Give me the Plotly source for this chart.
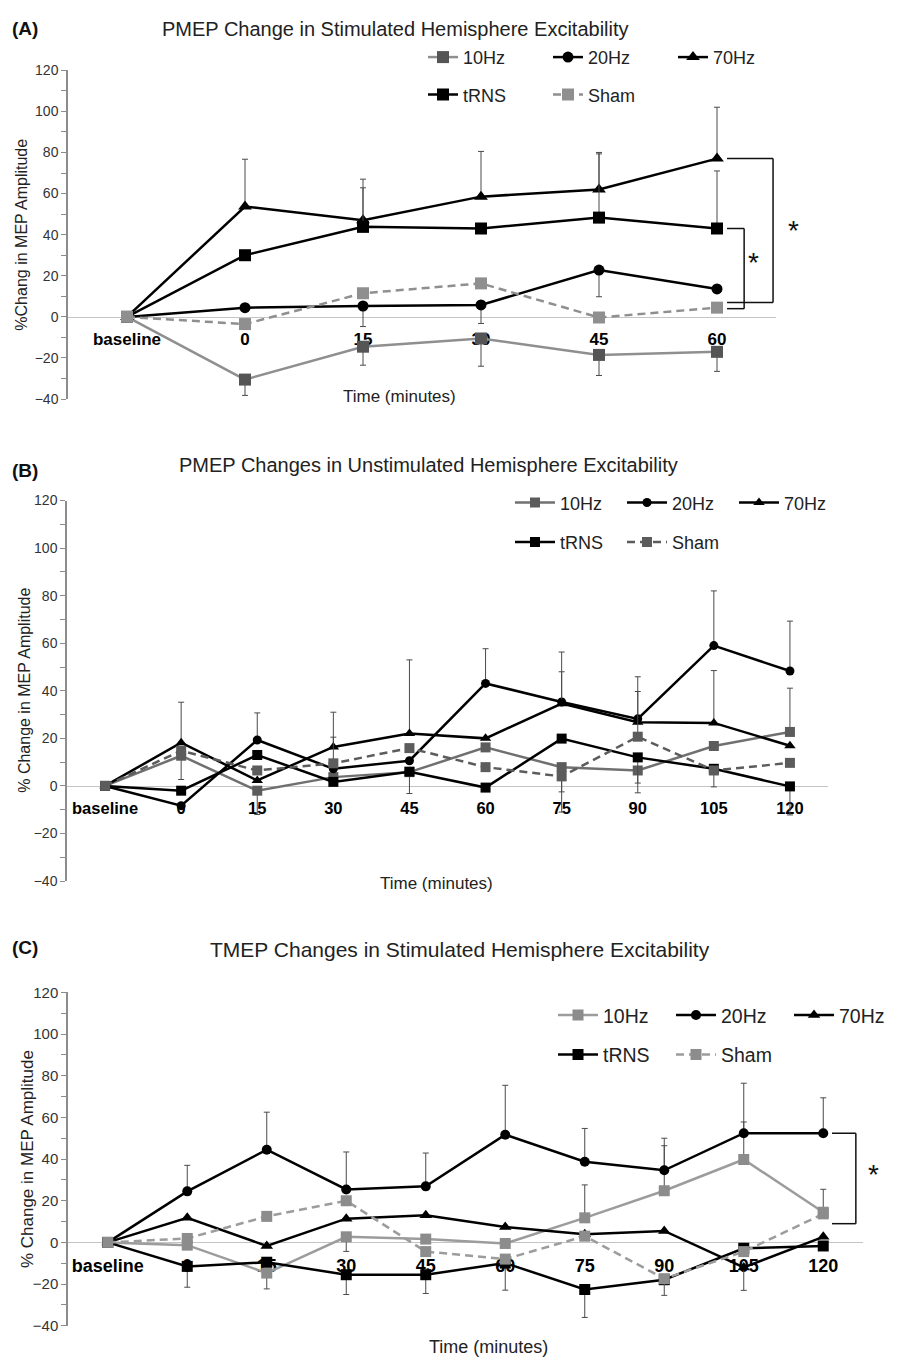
import plotly.graph_objects as go

W, H = 909, 1372
FONT = "Arial, 'Liberation Sans', sans-serif"

# ---------------- data ----------------
SERIES = ["10Hz", "20Hz", "70Hz", "tRNS", "Sham"]

A_CATS = ["baseline", "0", "15", "30", "45", "60"]
A_10HZ = [0, -30.5, -14.5, -10.5, -18.5, -17]
A_20HZ = [0, 4.5, 5.3, 5.8, 22.8, 13.6]
A_70HZ = [0, 53.7, 47, 58.5, 62, 77]
A_TRNS = [0, 30, 43.8, 43, 48.3, 43]
A_SHAM = [0, -3.5, 11.5, 16.3, -0.3, 4.5]
A_10HZ_ERR_MINUS = [0, 7.7, 9, 13.5, 10, 9.5]
A_20HZ_ERR_MINUS = [0, 0, 10, 9, 13, 0]
A_70HZ_ERR_PLUS = [0, 23, 20, 22, 18, 25]
A_TRNS_ERR_PLUS = [0, 0, 19, 0, 31, 28]

B_CATS = ["baseline", "0", "15", "30", "45", "60", "75", "90", "105", "120"]
B_10HZ = [0, 12.7, -2, 3.7, 5.8, 16.2, 7.9, 6.5, 16.8, 22.7]
B_20HZ = [0, -8.3, 19.3, 7.2, 10.6, 43.1, 35.3, 28.2, 59, 48.3]
B_70HZ = [0, 18.2, 2.3, 16.4, 22, 20, 34.6, 26.8, 26.5, 16.9]
B_TRNS = [0, -2, 13, 1.7, 6, -0.7, 19.9, 12, 7.2, -0.2]
B_SHAM = [0, 14.8, 6.5, 9.5, 15.9, 7.9, 4, 20.7, 6.5, 9.7]
B_10HZ_ERR_PLUS = [0, 0, 0, 0, 0, 0, 0, 0, 0, 18.4]
B_10HZ_ERR_MINUS = [0, 10, 10, 0, 9, 0, 10.4, 9.4, 0, 0]
B_20HZ_ERR_PLUS = [0, 0, 11.4, 0, 0, 14.6, 21, 17.7, 23, 21]
B_70HZ_ERR_PLUS = [0, 17, 0, 14.6, 31, 0, 13.4, 0, 22, 0]
B_TRNS_ERR_MINUS = [0, 0, 0, 0, 0, 0, 0, 10.8, 7.6, 12]
B_SHAM_ERR_PLUS = [0, 0, 0, 11, 0, 0, 0, 19, 0, 0]
B_SHAM_ERR_MINUS = [0, 0, 0, 0, 0, 0, 15, 0, 0, 0]

C_CATS = ["baseline", "0", "15", "30", "45", "60", "75", "90", "105", "120"]
C_10HZ = [0, -1.3, -14.7, 2.7, 1.6, -0.5, 11.8, 24.8, 39.8, 14.5]
C_20HZ = [0, 24.5, 44.5, 25.4, 26.9, 51.7, 38.7, 34.6, 52.4, 52.4]
C_70HZ = [0, 11.8, -1.7, 11.4, 13, 7.4, 3.9, 5.5, -12, 2.7]
C_TRNS = [0, -11.5, -9.5, -15.5, -15.5, -9.9, -22.6, -17.9, -2.8, -1.7]
C_SHAM = [0, 1.9, 12.5, 20, -4.4, -8, 3, -17.4, -4.4, 13.7]
C_10HZ_ERR_PLUS = [0, 0, 0, 0, 0, 0, 15.8, 21.6, 18, 11]
C_10HZ_ERR_MINUS = [0, 0, 7.6, 7, 0, 0, 0, 0, 0, 0]
C_20HZ_ERR_PLUS = [0, 12.5, 18, 18, 16, 23.7, 16, 15.4, 24, 17]
C_70HZ_ERR_MINUS = [0, 0, 0, 0, 0, 0, 0, 0, 11, 0]
C_TRNS_ERR_MINUS = [0, 10, 0, 9.5, 9, 13, 13.4, 0, 0, 0]
C_SHAM_ERR_MINUS = [0, 0, 0, 0, 0, 0, 0, 8, 0, 0]

Y_TICKS = [-40, -20, 0, 20, 40, 60, 80, 100, 120]

TITLES = ["PMEP Change in Stimulated Hemisphere Excitability",
          "PMEP Changes in Unstimulated Hemisphere Excitability",
          "TMEP Changes in Stimulated Hemisphere Excitability"]
LETTERS = ["(A)", "(B)", "(C)"]
Y_TITLES = ["%Chang in MEP Amplitude", "% Change in MEP Amplitude", "% Change in MEP Amplitude"]
X_TITLE = "Time (minutes)"
SIG = "*"


def zeros(n):
    return [0] * n


panels = [
    dict(cats=A_CATS,
         vals=[A_10HZ, A_20HZ, A_70HZ, A_TRNS, A_SHAM],
         plus=[None, None, A_70HZ_ERR_PLUS, A_TRNS_ERR_PLUS, None],
         minus=[A_10HZ_ERR_MINUS, A_20HZ_ERR_MINUS, None, None, None],
         xdom=(68, 776), ydom=(62, 395),
         c10=("#8f8f8f", "#555555"), csham=("#8f8f8f", "#8f8f8f"),
         msize=12, tickfs=17, ytickfs=14, ytitlefs=16, legfs=18,
         leg_rows=(49, 87), leg_x=423, entry=125, itemw=30,
         title_xy=(395, 20), title_fs=20, letter_y=20,
         ytitle_x=22, xtitle_xy=(399, 392), xtitle_fs=17),
    dict(cats=B_CATS,
         vals=[B_10HZ, B_20HZ, B_70HZ, B_TRNS, B_SHAM],
         plus=[B_10HZ_ERR_PLUS, B_20HZ_ERR_PLUS, B_70HZ_ERR_PLUS, None, B_SHAM_ERR_PLUS],
         minus=[B_10HZ_ERR_MINUS, None, None, B_TRNS_ERR_MINUS, B_SHAM_ERR_MINUS],
         xdom=(67, 828), ydom=(497.7, 883),
         c10=("#707070", "#5c5c5c"), csham=("#5c5c5c", "#5c5c5c"),
         msize=10, tickfs=16.5, ytickfs=14, ytitlefs=16, legfs=18,
         leg_rows=(500, 540), leg_x=510, entry=112, itemw=40,
         title_xy=(428, 462), title_fs=20, letter_y=467,
         ytitle_x=25, xtitle_xy=(436, 885), xtitle_fs=17),
    dict(cats=C_CATS,
         vals=[C_10HZ, C_20HZ, C_70HZ, C_TRNS, C_SHAM],
         plus=[C_10HZ_ERR_PLUS, C_20HZ_ERR_PLUS, None, None, None],
         minus=[C_10HZ_ERR_MINUS, None, C_70HZ_ERR_MINUS, C_TRNS_ERR_MINUS, C_SHAM_ERR_MINUS],
         xdom=(68, 863), ydom=(995.7, 1333.3),
         c10=("#9c9c9c", "#8c8c8c"), csham=("#9c9c9c", "#8c8c8c"),
         msize=11, tickfs=18, ytickfs=15, ytitlefs=17, legfs=19.5,
         leg_rows=(1019, 1059), leg_x=553, entry=118, itemw=40,
         title_xy=(460, 952), title_fs=21, letter_y=950,
         ytitle_x=27, xtitle_xy=(488, 1355), xtitle_fs=18),
]

fig = go.Figure()
layout = dict(width=W, height=H, margin=dict(l=0, r=0, t=0, b=0),
              paper_bgcolor="white", plot_bgcolor="white",
              font=dict(family=FONT, color="#222222"), showlegend=True)
annotations = []
shapes = []


def fx(p):
    return p / W


def fy(p):
    return 1 - p / H


for i, p in enumerate(panels):
    sfx = "" if i == 0 else str(i + 1)
    xa, ya = "x" + sfx, "y" + sfx
    leg1 = "legend" if i == 0 else "legend%d" % (2 * i + 1)
    leg2 = "legend%d" % (2 * i + 2)
    n = len(p["cats"])
    styles = [
        dict(lc=p["c10"][0], mc=p["c10"][1], sym="square", dash="solid", lw=2.5, ms=p["msize"]),
        dict(lc="#000000", mc="#000000", sym="circle", dash="solid", lw=2.5, ms=p["msize"] - 1),
        dict(lc="#000000", mc="#000000", sym="triangle-up", dash="solid", lw=2.5, ms=p["msize"]),
        dict(lc="#000000", mc="#000000", sym="square", dash="solid", lw=2.5, ms=p["msize"]),
        dict(lc=p["csham"][0], mc=p["csham"][1], sym="square", dash="8px,5px", lw=2.5, ms=p["msize"]),
    ]
    for k, name in enumerate(SERIES):
        st = styles[k]
        plus = p["plus"][k] if p["plus"][k] is not None else zeros(n)
        minus = p["minus"][k] if p["minus"][k] is not None else zeros(n)
        has_err = p["plus"][k] is not None or p["minus"][k] is not None
        fig.add_trace(go.Scatter(
            x=p["cats"], y=p["vals"][k], name=name, mode="lines+markers",
            xaxis=xa, yaxis=ya, legend=leg1 if k < 3 else leg2,
            line=dict(color=st["lc"], width=st["lw"], dash=st["dash"]),
            marker=dict(symbol=st["sym"], size=st["ms"], color=st["mc"], line=dict(width=0)),
            error_y=dict(type="data", symmetric=False, array=plus, arrayminus=minus,
                         color="#4a4a4a", thickness=1, width=3, visible=has_err),
            cliponaxis=False, hoverinfo="skip"))

    d0, d1 = fy(p["ydom"][1]), fy(p["ydom"][0])
    zero_pos = d0 + (0 - Y_TICKS[0]) / (Y_TICKS[-1] - Y_TICKS[0]) * (d1 - d0)
    layout["xaxis" + sfx] = dict(
        domain=[fx(p["xdom"][0]), fx(p["xdom"][1])], type="category",
        range=[-0.5, n - 0.5], anchor="free", position=zero_pos,
        showline=True, linecolor="#c4c4c4", linewidth=1, showgrid=False, zeroline=False,
        ticks="outside", ticklen=7, tickcolor="rgba(0,0,0,0)",
        tickvals=p["cats"], ticktext=p["cats"],
        tickfont=dict(family=FONT, size=p["tickfs"], color="#000000", weight="bold"),
        layer="below traces", fixedrange=True)
    layout["yaxis" + sfx] = dict(
        domain=[d0, d1], range=[Y_TICKS[0], Y_TICKS[-1]], anchor=xa,
        tickvals=Y_TICKS, ticks="outside", ticklen=5, tickcolor="#8c8c8c", tickwidth=1,
        minor=dict(dtick=10, tick0=0, ticks="outside", ticklen=5, tickcolor="#8c8c8c", showgrid=False),
        showline=True, linecolor="#8c8c8c", linewidth=1.5, showgrid=False, zeroline=False,
        tickfont=dict(family=FONT, size=p["ytickfs"], color="#333333"), fixedrange=True)

    for leg, row_y in ((leg1, p["leg_rows"][0]), (leg2, p["leg_rows"][1])):
        layout[leg] = dict(orientation="h", x=fx(p["leg_x"]), y=fy(row_y),
                           xanchor="left", yanchor="middle", bgcolor="rgba(0,0,0,0)",
                           font=dict(family=FONT, size=p["legfs"], color="#222222"),
                           itemwidth=p["itemw"],
                           entrywidth=p["entry"] - p["itemw"] - 15, entrywidthmode="pixels",
                           itemclick=False, itemdoubleclick=False)

    annotations.append(dict(text=TITLES[i], x=fx(p["title_xy"][0]), y=fy(p["title_xy"][1]),
                            xref="paper", yref="paper", showarrow=False, xanchor="center",
                            yanchor="middle", font=dict(family=FONT, size=p["title_fs"], color="#222222")))
    annotations.append(dict(text="<b>%s</b>" % LETTERS[i], x=fx(10), y=fy(p["letter_y"]),
                            xref="paper", yref="paper", showarrow=False, xanchor="left",
                            yanchor="middle", font=dict(family=FONT, size=19, color="#111111")))
    annotations.append(dict(text=Y_TITLES[i], x=fx(p["ytitle_x"]),
                            y=fy((p["ydom"][0] + p["ydom"][1]) / 2), textangle=-90,
                            xref="paper", yref="paper", showarrow=False, xanchor="center",
                            yanchor="middle", font=dict(family=FONT, size=p["ytitlefs"], color="#222222")))
    annotations.append(dict(text=X_TITLE, x=fx(p["xtitle_xy"][0]), y=fy(p["xtitle_xy"][1]),
                            xref="paper", yref="paper", showarrow=False, xanchor="center",
                            yanchor="middle", font=dict(family=FONT, size=p["xtitle_fs"], color="#222222")))


def bracket(xa, ya, x_start, x_end, y_top, y_bot):
    for (x0, y0, x1, y1) in ((x_start, y_top, x_end, y_top), (x_end, y_top, x_end, y_bot),
                             (x_end, y_bot, x_start, y_bot)):
        shapes.append(dict(type="line", xref=xa, yref=ya, x0=x0, y0=y0, x1=x1, y1=y1,
                           line=dict(color="#111111", width=1.5)))


def star(px_x, px_y, size=28):
    annotations.append(dict(text=SIG, x=fx(px_x), y=fy(px_y - 3), xref="paper", yref="paper",
                            showarrow=False, xanchor="center", yanchor="middle",
                            font=dict(family=FONT, size=size, color="#111111")))


last_a = len(A_CATS) - 1
bracket("x", "y", last_a + 0.085, last_a + 0.475, A_70HZ[-1], A_SHAM[-1] + 2.5)
bracket("x", "y", last_a + 0.085, last_a + 0.23, A_TRNS[-1], A_SHAM[-1] - 0.5)
star(793, 227)
star(753, 260)

last_c = len(C_CATS) - 1
bracket("x3", "y3", last_c + 0.11, last_c + 0.41, C_20HZ[-1], C_10HZ[-1] - 5.5)
star(873, 1183)

layout["annotations"] = annotations
layout["shapes"] = shapes
fig.update_layout(**layout)
fig.write_html("out.html")
